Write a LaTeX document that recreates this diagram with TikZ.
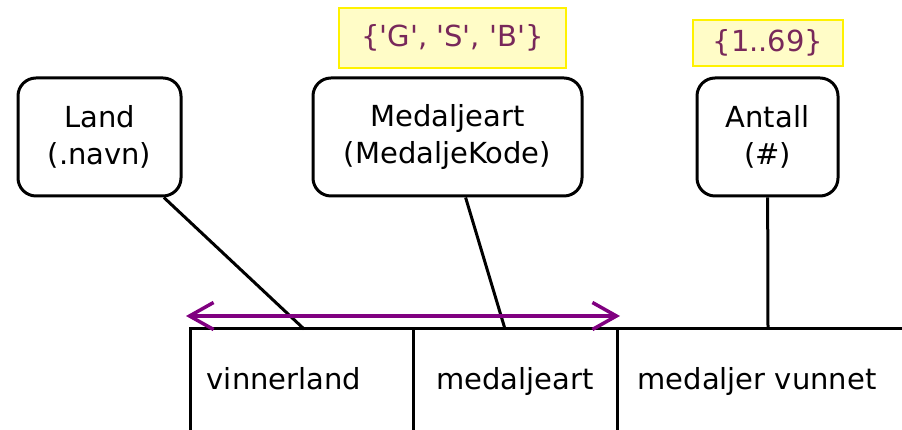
\documentclass[tikz,border=0pt]{standalone}
\usepackage{fontspec}
\setmainfont{DejaVu Sans}
\usepackage{tikz}
\usetikzlibrary{arrows.meta}

\definecolor{dompurple}{RGB}{120,40,90}
\definecolor{arrpurple}{RGB}{128,0,128}

\tikzset{
  attr/.style={draw, line width=3pt, rounded corners=18pt, align=center,
    font=\fontsize{29}{37}\selectfont, inner sep=0pt},
  dombox/.style={draw=yellow, line width=1.5pt, fill=yellow!22, text=dompurple,
    font=\fontsize{29}{36}\selectfont, inner sep=0pt},
  cell/.style={anchor=base, font=\fontsize{29}{36}\selectfont},
  link/.style={line width=3pt}
}

\begin{document}
\begin{tikzpicture}[x=1pt,y=1pt]
\useasboundingbox (0,0) rectangle (902,430);

% attributes
\node[attr, minimum width=163pt, minimum height=118pt] (land) at (99.5,293) {Land\\(.navn)};
\node[attr, minimum width=269pt, minimum height=118pt] (art) at (447.5,293) {Medaljeart\\(MedaljeKode)};
\node[attr, minimum width=141pt, minimum height=118pt] (antall) at (767.5,293) {Antall\\(\#)};

% domains
\node[dombox, minimum width=227pt, minimum height=60pt] (artdom) at (452.5,392)
  {\{\textquotesingle G\textquotesingle, \textquotesingle S\textquotesingle, \textquotesingle B\textquotesingle\}};
\node[dombox, minimum width=150pt, minimum height=46pt] (antdom) at (768,387) {\{1..69\}};

% table
\draw[link] (190,0) -- (190,101) -- (902,101);
\draw[link] (413,0) -- (413,101);
\draw[link] (617,0) -- (617,101);
\node[cell] (vinner) at (284,40) {vinnerland};
\node[cell] (medart) at (515,40) {medaljeart};
\node[cell] (vunnet) at (757,40) {medaljer vunnet};

\coordinate (landfoot) at (304,101);
\coordinate (artfoot) at (505,101);
\coordinate (antfoot) at (768,101);
\draw[link] (land) -- (landfoot); % land - vinnerland
\draw[link] (art) -- (artfoot); % medaljeart - medaljeart
\draw[link] (antall) -- (antfoot); % antall - medaljer vunnet

% key
\coordinate (keyL) at (186,114);
\coordinate (keyR) at (620,114);
\draw[arrpurple, line width=3.5pt, {Straight Barb[length=24pt,width=27pt]}-{Straight Barb[length=24pt,width=27pt]}] (keyL) -- (keyR);

\end{tikzpicture}
\end{document}
